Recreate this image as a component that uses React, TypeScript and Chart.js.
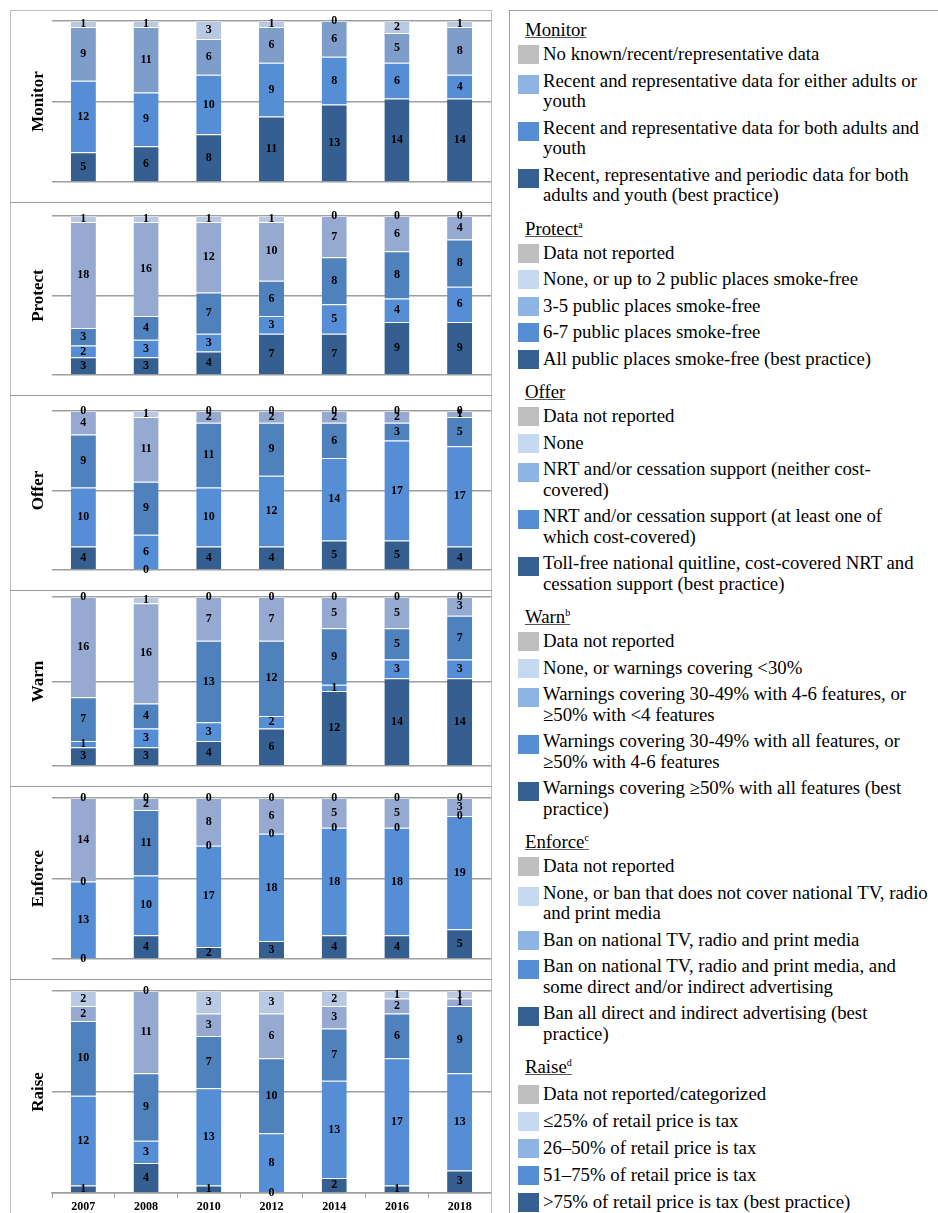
import React, { useEffect, useRef } from "react";
import { Chart, registerables } from "chart.js";

Chart.register(...registerables);

// ---------- categories ----------
const years = ["2007", "2008", "2010", "2012", "2014", "2016", "2018"];

// ---------- Monitor (bottom -> top) ----------
const monitorBest = [5, 6, 8, 11, 13, 14, 14];
const monitorBoth = [12, 9, 10, 9, 8, 6, 4];
const monitorEither = [9, 11, 6, 6, 6, 5, 8];
const monitorNoData = [1, 1, 3, 1, 0, 2, 1];

// ---------- Protect ----------
const protectAll = [3, 3, 4, 7, 7, 9, 9];
const protect67 = [2, 3, 3, 3, 5, 4, 6];
const protect35 = [3, 4, 7, 6, 8, 8, 8];
const protectNone = [18, 16, 12, 10, 7, 6, 4];
const protectNotReported = [1, 1, 1, 1, 0, 0, 0];

// ---------- Offer ----------
const offerBest = [4, 0, 4, 4, 5, 5, 4];
const offerCostCovered = [10, 6, 10, 12, 14, 17, 17];
const offerNotCovered = [9, 9, 11, 9, 6, 3, 5];
const offerNone = [4, 11, 2, 2, 2, 2, 1];
const offerNotReported = [0, 1, 0, 0, 0, 0, 0];

// ---------- Warn ----------
const warnBest = [3, 3, 4, 6, 12, 14, 14];
const warnAllFeatures = [1, 3, 3, 2, 1, 3, 3];
const warnSomeFeatures = [7, 4, 13, 12, 9, 5, 7];
const warnNone = [16, 16, 7, 7, 5, 5, 3];
const warnNotReported = [0, 1, 0, 0, 0, 0, 0];

// ---------- Enforce ----------
const enforceBest = [0, 4, 2, 3, 4, 4, 5];
const enforceSome = [13, 10, 17, 18, 18, 18, 19];
const enforceNational = [0, 11, 0, 0, 0, 0, 0];
const enforceNone = [14, 2, 8, 6, 5, 5, 3];
const enforceNotReported = [0, 0, 0, 0, 0, 0, 0];

// ---------- Raise ----------
const raiseBest = [1, 4, 1, 0, 2, 1, 3];
const raise5175 = [12, 3, 13, 8, 13, 17, 13];
const raise2650 = [10, 9, 7, 10, 7, 6, 9];
const raiseUpTo25 = [2, 11, 3, 6, 3, 2, 1];
const raiseNotReported = [2, 0, 3, 3, 2, 1, 1];

const TOTAL = 27;

// ---------- colours ----------
const cDark = "#365F91";
const cBright = "#558ED5";
const cSteel = "#4F81BD";
const cGrayBlue = "#95A9D1";
const cMonitorGrayBlue = "#7F9DCB";
const cLight = "#B9C8E3";

const swGray = "#BFBFBF";
const swLight = "#C6D9F1";
const swGrayBlue = "#8EB4E3";
const swMedium = "#558ED5";
const swDark = "#376092";

const SERIF = '"Liberation Serif", "Times New Roman", serif';

type PanelDef = {
  title: string;
  series: number[][];
  colors: string[];
  top: number;
  height: number;
  padTop: number;
  showX: boolean;
};

const panels: PanelDef[] = [
  {
    title: "Monitor",
    series: [monitorBest, monitorBoth, monitorEither, monitorNoData],
    colors: [cDark, cBright, cMonitorGrayBlue, cLight],
    top: 11, height: 191, padTop: 10, showX: false,
  },
  {
    title: "Protect",
    series: [protectAll, protect67, protect35, protectNone, protectNotReported],
    colors: [cDark, cBright, cSteel, cGrayBlue, cLight],
    top: 203, height: 192, padTop: 13, showX: false,
  },
  {
    title: "Offer",
    series: [offerBest, offerCostCovered, offerNotCovered, offerNone, offerNotReported],
    colors: [cDark, cBright, cSteel, cGrayBlue, cLight],
    top: 396, height: 194, padTop: 15, showX: false,
  },
  {
    title: "Warn",
    series: [warnBest, warnAllFeatures, warnSomeFeatures, warnNone, warnNotReported],
    colors: [cDark, cBright, cSteel, cGrayBlue, cLight],
    top: 591, height: 195, padTop: 6, showX: false,
  },
  {
    title: "Enforce",
    series: [enforceBest, enforceSome, enforceNational, enforceNone, enforceNotReported],
    colors: [cDark, cBright, cSteel, cGrayBlue, cLight],
    top: 787, height: 192, padTop: 11, showX: false,
  },
  {
    title: "Raise",
    series: [raiseBest, raise5175, raise2650, raiseUpTo25, raiseNotReported],
    colors: [cDark, cBright, cSteel, cGrayBlue, cLight],
    top: 980, height: 233, padTop: 11, showX: true,
  },
];

const valueLabels = {
  id: "valueLabels",
  afterDatasetsDraw(chart: any) {
    const ctx = chart.ctx;
    ctx.save();
    ctx.font = `bold 12px ${SERIF}`;
    ctx.fillStyle = "#000";
    ctx.textAlign = "center";
    ctx.textBaseline = "middle";
    chart.data.datasets.forEach((ds: any, i: number) => {
      const meta = chart.getDatasetMeta(i);
      meta.data.forEach((el: any, j: number) => {
        const v = ds.data[j];
        const y = (el.y + el.base) / 2;
        ctx.fillText(String(v), el.x, y);
      });
    });
    ctx.restore();
  },
};

function buildConfig(p: PanelDef): any {
  return {
    type: "bar",
    data: {
      labels: years,
      datasets: p.series.map((s, i) => ({
        label: `${p.title} ${i}`,
        data: s,
        backgroundColor: p.colors[i],
        borderColor: "rgba(255,255,255,0.3)",
        borderWidth: { top: 1, bottom: 0, left: 0, right: 0 },
        borderSkipped: false,
        barPercentage: 0.4,
        categoryPercentage: 1,
      })),
    },
    options: {
      animation: false,
      responsive: true,
      maintainAspectRatio: false,
      layout: { padding: { top: p.padTop, left: 0, right: 0, bottom: 0 } },
      plugins: {
        legend: { display: false },
        tooltip: { enabled: false },
      },
      scales: {
        x: {
          stacked: true,
          display: p.showX,
          grid: {
            display: true,
            drawOnChartArea: false,
            drawTicks: true,
            tickLength: 5,
            color: "#9E9E9E",
            offset: true,
          },
          border: { display: true, color: "#9E9E9E", width: 1.5 },
          ticks: {
            color: "#000",
            padding: 2,
            font: { family: SERIF, size: 12, weight: "bold" },
            maxRotation: 0,
          },
          afterFit: (s: any) => {
            s.height = 20;
          },
        },
        y: {
          stacked: true,
          min: 0,
          max: TOTAL,
          grid: { color: "#9E9E9E", lineWidth: 1.5, drawTicks: false },
          border: { display: false },
          ticks: { display: false, stepSize: TOTAL / 2 },
          title: {
            display: true,
            text: p.title,
            color: "#000",
            font: { family: SERIF, size: 17, weight: "bold" },
            padding: { top: 17, bottom: 0 },
          },
          afterFit: (s: any) => {
            s.width = 41;
          },
        },
      },
    },
    plugins: [valueLabels],
  };
}

function Panel({ p }: { p: PanelDef }) {
  const ref = useRef<HTMLCanvasElement>(null);
  useEffect(() => {
    const chart = new Chart(ref.current as HTMLCanvasElement, buildConfig(p));
    return () => chart.destroy();
  }, []);
  return (
    <div style={{ position: "absolute", left: 11, top: p.top, width: 480, height: p.height }}>
      <canvas ref={ref} />
    </div>
  );
}

type LegendItem = { color: string; lines: string[] };
type LegendSection = { title: string; sup?: string; headGap?: number; itemGap?: number; items: LegendItem[] };

const legendSections: LegendSection[] = [
  {
    title: "Monitor",
    items: [
      { color: swGray, lines: ["No known/recent/representative data"] },
      { color: swGrayBlue, lines: ["Recent and representative data for either adults or", "youth"] },
      { color: swMedium, lines: ["Recent and representative data for both adults and", "youth"] },
      { color: swDark, lines: ["Recent, representative and periodic data for both", "adults and youth (best practice)"] },
    ],
  },
  {
    title: "Protect",
    sup: "a",
    items: [
      { color: swGray, lines: ["Data not reported"] },
      { color: swLight, lines: ["None, or up to 2 public places smoke-free"] },
      { color: swGrayBlue, lines: ["3-5 public places smoke-free"] },
      { color: swMedium, lines: ["6-7 public places smoke-free"] },
      { color: swDark, lines: ["All public places smoke-free (best practice)"] },
    ],
  },
  {
    title: "Offer",
    items: [
      { color: swGray, lines: ["Data not reported"] },
      { color: swLight, lines: ["None"] },
      { color: swGrayBlue, lines: ["NRT and/or cessation support (neither cost-", "covered)"] },
      { color: swMedium, lines: ["NRT and/or cessation support (at least one of", "which cost-covered)"] },
      { color: swDark, lines: ["Toll-free national quitline, cost-covered NRT and", "cessation support (best practice)"] },
    ],
  },
  {
    title: "Warn",
    sup: "b",
    items: [
      { color: swGray, lines: ["Data not reported"] },
      { color: swLight, lines: ["None, or warnings covering <30%"] },
      { color: swGrayBlue, lines: ["Warnings covering 30-49% with 4-6 features, or", "≥50% with <4 features"] },
      { color: swMedium, lines: ["Warnings covering 30-49% with all features, or", "≥50% with 4-6 features"] },
      { color: swDark, lines: ["Warnings covering ≥50% with all features (best", "practice)"] },
    ],
  },
  {
    title: "Enforce",
    sup: "c",
    items: [
      { color: swGray, lines: ["Data not reported"] },
      { color: swLight, lines: ["None, or ban that does not cover national TV, radio", "and print media"] },
      { color: swGrayBlue, lines: ["Ban on national TV, radio and print media"] },
      { color: swMedium, lines: ["Ban on national TV, radio and print media, and", "some direct and/or indirect advertising"] },
      { color: swDark, lines: ["Ban all direct and indirect advertising (best", "practice)"] },
    ],
  },
  {
    title: "Raise",
    sup: "d",
    headGap: 6,
    itemGap: 6.6,
    items: [
      { color: swGray, lines: ["Data not reported/categorized"] },
      { color: swLight, lines: ["≤25% of retail price is tax"] },
      { color: swGrayBlue, lines: ["26–50% of retail price is tax"] },
      { color: swMedium, lines: ["51–75% of retail price is tax"] },
      { color: swDark, lines: [">75% of retail price is tax (best practice)"] },
    ],
  },
];

function Legend() {
  return (
    <div
      style={{
        position: "absolute",
        left: 509,
        top: 10,
        width: 460,
        height: 1260,
        border: "1px solid #A0A0A0",
        boxSizing: "border-box",
        paddingTop: 8,
        fontFamily: SERIF,
        fontSize: 18.8,
        color: "#000",
      }}
    >
      {legendSections.map((sec, si) => (
        <div key={si} style={{ paddingTop: si === 0 ? 0 : 5.75, display: "flow-root" }}>
          <div
            style={{
              height: 22,
              lineHeight: "22px",
              marginLeft: 15,
              marginBottom: sec.headGap ?? 3.25,
              whiteSpace: "nowrap",
            }}
          >
            <span style={{ textDecoration: "underline", textDecorationColor: "#555" }}>
              {sec.title}
              {sec.sup ? <sup style={{ fontSize: 10, lineHeight: 0 }}>{sec.sup}</sup> : null}
            </span>
          </div>
          {sec.items.map((it, ii) => (
            <div
              key={ii}
              style={{ display: "flex", alignItems: "flex-start", marginLeft: 8, marginBottom: sec.itemGap ?? 6 }}
            >
              <div
                style={{
                  width: 21,
                  height: 19,
                  background: it.color,
                  marginTop: it.lines.length > 1 ? 4 : 1,
                  marginRight: 4,
                  flex: "0 0 auto",
                }}
              />
              <div style={{ lineHeight: "20.5px", whiteSpace: "nowrap" }}>
                {it.lines.map((l, li) => (
                  <div key={li}>{l}</div>
                ))}
              </div>
            </div>
          ))}
        </div>
      ))}
    </div>
  );
}

export default function App() {
  return (
    <div
      style={{
        position: "absolute",
        left: 0,
        top: 0,
        width: 938,
        height: 1213,
        overflow: "hidden",
        background: "#fff",
        fontFamily: SERIF,
      }}
    >
      <div
        style={{
          position: "absolute",
          left: 10,
          top: 10,
          width: 482,
          height: 1260,
          border: "1px solid #BDBDBD",
          boxSizing: "border-box",
        }}
      />
      {[202, 395, 590, 786, 979].map((y) => (
        <div
          key={y}
          style={{ position: "absolute", left: 10, top: y, width: 482, height: 1, background: "#9A9A9A" }}
        />
      ))}
      {panels.map((p) => (
        <Panel key={p.title} p={p} />
      ))}
      <Legend />
    </div>
  );
}
